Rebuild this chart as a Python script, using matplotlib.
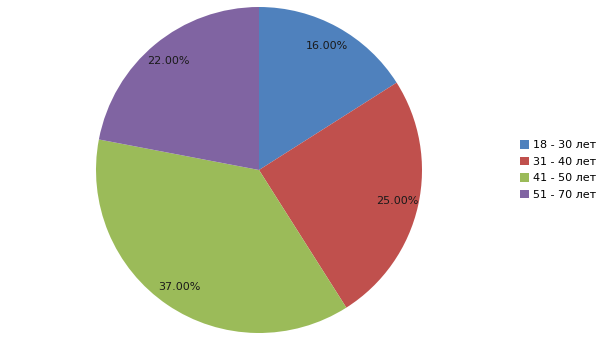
import matplotlib
matplotlib.use("Agg")
import matplotlib.pyplot as plt

categories = ["18 - 30 лет", "31 - 40 лет", "41 - 50 лет", "51 - 70 лет"]
values = [16, 25, 37, 22]
colors = ["#4F81BD", "#C0504D", "#9BBB59", "#8064A2"]

plt.rcParams['font.family'] = ['DejaVu Sans']
fig = plt.figure(figsize=(6.05, 3.40), dpi=100)
ax = fig.add_axes([96/605, 7/340, 326/605, 326/340])
wedges, texts, autotexts = ax.pie(values, colors=colors, startangle=90, counterclock=False,
                                   autopct='%.2f%%', pctdistance=0.87, radius=1.0,
                                   wedgeprops=dict(linewidth=0))
for t in autotexts:
    t.set_fontsize(8)
    t.set_color('#1a1a1a')
ax.set_xlim(-1, 1)
ax.set_ylim(-1, 1)
ax.set_aspect('equal')
ax.axis('off')

leg = fig.legend(wedges, categories, loc='center left', bbox_to_anchor=(510/605, 0.5),
                 frameon=False, fontsize=8, handlelength=0.8, handleheight=0.8,
                 handletextpad=0.4, labelspacing=0.57)
fig.savefig("out.png", dpi=100)
